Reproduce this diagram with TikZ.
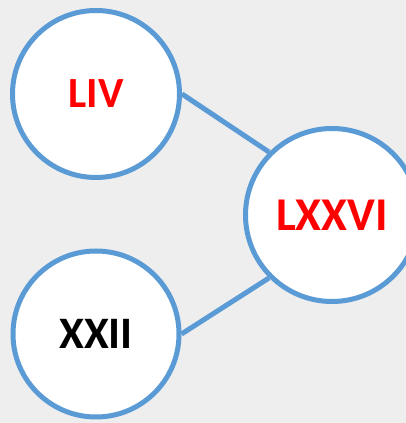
\documentclass[tikz,border=0pt]{standalone}
\usepackage{fontspec}
\setmainfont{Carlito}
\definecolor{ringblue}{HTML}{5B9BD5}
\definecolor{bggray}{HTML}{EEEEEE}
\definecolor{txtred}{HTML}{FF0000}
\tikzset{
  ring/.style={circle, draw=ringblue, line width=5pt, fill=white, inner sep=0pt,
    font=\bfseries\fontsize{43}{43}\selectfont},
  link/.style={draw=ringblue, line width=5pt}
}
\begin{document}
\begin{tikzpicture}[x=1pt,y=1pt]
\useasboundingbox (0,0) rectangle (406,423);
\fill[bggray] (0,0) rectangle (406,423);
\clip (0,0) rectangle (406,423);
\node[ring, minimum size=167pt, text=txtred] (liv) at (96,329) {LIV};
\node[ring, minimum size=166pt, text=black, font=\bfseries\fontsize{45}{45}\selectfont] (xxii) at (96,89) {XXII};
\node[ring, minimum size=173pt, text=txtred, font=\bfseries\fontsize{47}{47}\selectfont] (lxxvi) at (332,208) {LXXVI};
\draw[link] (liv.east) -- (lxxvi.north west);
\draw[link] (xxii.east) -- (lxxvi.south west);
\end{tikzpicture}
\end{document}
